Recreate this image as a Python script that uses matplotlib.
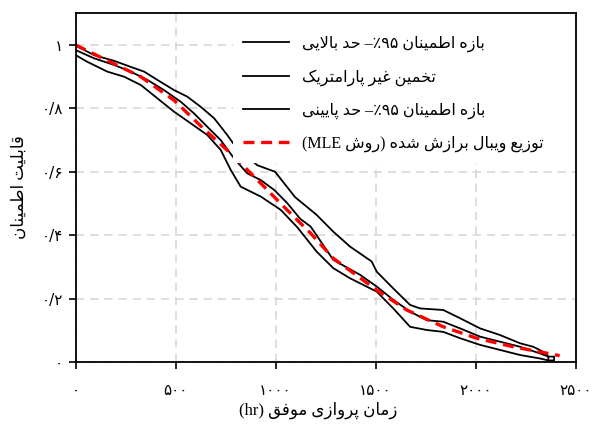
import re
import matplotlib
matplotlib.use("Agg")
import matplotlib.pyplot as plt
from matplotlib.patches import Rectangle
from matplotlib.lines import Line2D

# ---------------- data ----------------
t_upper = [0, 92, 192, 275, 342, 408, 491, 558, 625, 692, 758, 787, 907, 997, 1097,
           1205, 1288, 1372, 1480, 1505, 1588, 1672, 1722, 1838, 1922, 2022, 2122,
           2222, 2288, 2338, 2363, 2392, 2392]
s_upper = [0.998, 0.968, 0.950, 0.931, 0.916, 0.890, 0.858, 0.837, 0.805, 0.769, 0.716,
           0.690, 0.621, 0.600, 0.520, 0.464, 0.411, 0.364, 0.317, 0.285, 0.232, 0.180,
           0.169, 0.164, 0.138, 0.106, 0.085, 0.059, 0.048, 0.032, 0.017, 0.017, 0.005]

t_km = [0, 92, 192, 275, 358, 441, 525, 592, 658, 725, 792, 858, 925, 992, 1058,
        1122, 1175, 1288, 1422, 1505, 1588, 1672, 1755, 1838, 1922, 2022, 2122, 2222,
        2322, 2363, 2363]
s_km = [0.984, 0.958, 0.937, 0.916, 0.890, 0.858, 0.821, 0.784, 0.742, 0.700, 0.642,
        0.595, 0.574, 0.543, 0.501, 0.452, 0.427, 0.322, 0.275, 0.238, 0.196, 0.159,
        0.132, 0.127, 0.106, 0.080, 0.064, 0.048, 0.027, 0.017, 0.005]

t_lower = [0, 58, 158, 242, 325, 408, 491, 575, 658, 725, 775, 825, 925, 1025, 1108,
           1205, 1288, 1372, 1505, 1588, 1672, 1755, 1838, 1922, 2022, 2122, 2222,
           2322, 2363, 2392]
s_lower = [0.968, 0.947, 0.916, 0.900, 0.874, 0.832, 0.790, 0.753, 0.716, 0.669, 0.606,
           0.553, 0.522, 0.480, 0.425, 0.348, 0.296, 0.264, 0.222, 0.169, 0.111, 0.101,
           0.095, 0.075, 0.054, 0.038, 0.022, 0.011, 0.005, 0.005]

t_weibull = [0, 158, 325, 491, 633, 792, 925, 1058, 1175, 1288, 1505, 1655, 1838,
             2005, 2188, 2420]
s_weibull = [1.0, 0.951, 0.900, 0.826, 0.740, 0.648, 0.564, 0.479, 0.406, 0.327, 0.227,
             0.164, 0.111, 0.075, 0.048, 0.020]

x_ticks = [0, 500, 1000, 1500, 2000, 2500]
x_ticklabels = ["۰", "۵۰۰", "۱۰۰۰", "۱۵۰۰", "۲۰۰۰", "۲۵۰۰"]
y_ticks = [0, 0.2, 0.4, 0.6, 0.8, 1.0]
y_ticklabels = ["۰", "۰/۲", "۰/۴", "۰/۶", "۰/۸", "۱"]

label_upper = "بازه اطمینان ۹۵٪– حد بالایی"
label_km = "تخمین غیر پارامتریک"
label_lower = "بازه اطمینان ۹۵٪– حد پایینی"
label_weibull = "توزیع ویبال برازش شده (روش MLE)"
x_label = "زمان پروازی موفق (hr)"
y_label = "قابلیت اطمینان"

# ---------------- simple Arabic-script shaping for display ----------------
FORMS = {
    '\u0627': ('\uFE8D', '\uFE8E', None, None),
    '\u0628': ('\uFE8F', '\uFE90', '\uFE91', '\uFE92'),
    '\u067E': ('\uFB56', '\uFB57', '\uFB58', '\uFB59'),
    '\u062A': ('\uFE95', '\uFE96', '\uFE97', '\uFE98'),
    '\u062D': ('\uFEA1', '\uFEA2', '\uFEA3', '\uFEA4'),
    '\u062E': ('\uFEA5', '\uFEA6', '\uFEA7', '\uFEA8'),
    '\u062F': ('\uFEA9', '\uFEAA', None, None),
    '\u0631': ('\uFEAD', '\uFEAE', None, None),
    '\u0632': ('\uFEAF', '\uFEB0', None, None),
    '\u0633': ('\uFEB1', '\uFEB2', '\uFEB3', '\uFEB4'),
    '\u0634': ('\uFEB5', '\uFEB6', '\uFEB7', '\uFEB8'),
    '\u0637': ('\uFEC1', '\uFEC2', '\uFEC3', '\uFEC4'),
    '\u0639': ('\uFEC9', '\uFECA', '\uFECB', '\uFECC'),
    '\u063A': ('\uFECD', '\uFECE', '\uFECF', '\uFED0'),
    '\u0641': ('\uFED1', '\uFED2', '\uFED3', '\uFED4'),
    '\u0642': ('\uFED5', '\uFED6', '\uFED7', '\uFED8'),
    '\u0644': ('\uFEDD', '\uFEDE', '\uFEDF', '\uFEE0'),
    '\u0645': ('\uFEE1', '\uFEE2', '\uFEE3', '\uFEE4'),
    '\u0646': ('\uFEE5', '\uFEE6', '\uFEE7', '\uFEE8'),
    '\u0647': ('\uFEE9', '\uFEEA', '\uFEEB', '\uFEEC'),
    '\u0648': ('\uFEED', '\uFEEE', None, None),
    '\u06CC': ('\uFBFC', '\uFBFD', '\uFBFE', '\uFBFF'),
    '\u064A': ('\uFEF1', '\uFEF2', '\uFEF3', '\uFEF4'),
    '\u06A9': ('\uFB8E', '\uFB8F', '\uFB90', '\uFB91'),
}


def _dual(c):
    return c in FORMS and FORMS[c][2] is not None


def shape(s):
    out = []
    i, n = 0, len(s)
    while i < n:
        c = s[i]
        if c not in FORMS:
            out.append(c)
            i += 1
            continue
        jp = i > 0 and _dual(s[i - 1])
        if c == '\u0644' and i + 1 < n and s[i + 1] == '\u0627':
            out.append('\uFEFC' if jp else '\uFEFB')
            i += 2
            continue
        jn = _dual(c) and i + 1 < n and s[i + 1] in FORMS
        f = FORMS[c]
        if jp and jn:
            g = f[3]
        elif jp:
            g = f[1]
        elif jn:
            g = f[2]
        else:
            g = f[0]
        out.append(g)
        i += 1
    return ''.join(out)


def visual(s):
    r = shape(s)[::-1]
    r = re.sub(r'[A-Za-z0-9\u06F0-\u06F9]+', lambda m: m.group(0)[::-1], r)
    return r.translate(str.maketrans('()', ')('))


FAM = ['Liberation Serif', 'DejaVu Sans']
NUMFAM = ['DejaVu Sans']

# ---------------- figure ----------------
W, H = 592, 428
fig = plt.figure(figsize=(W / 100, H / 100), dpi=100)
x0, x1, ytop, ybot = 75.7, 575.7, 13.3, 362.0
ax = fig.add_axes([x0 / W, 1 - ybot / H, (x1 - x0) / W, (ybot - ytop) / H])

ax.set_xlim(0, 2500)
ax.set_ylim(0, 1.1)

ax.grid(True, color='#d8d8d8', linestyle=(0, (5, 3.5)), linewidth=1.2, zorder=0)
ax.set_axisbelow(True)

lw_k = 1.3
ax.plot(t_upper, s_upper, color='black', lw=lw_k, zorder=2)
ax.plot(t_km, s_km, color='black', lw=lw_k, zorder=2)
ax.plot(t_lower, s_lower, color='black', lw=lw_k, zorder=2)
ax.plot(t_weibull, s_weibull, color='#ff0000', lw=2.4, linestyle=(0, (3.3, 2.0)), zorder=2.1)

# white legend background area
ax.add_patch(Rectangle(((233 - x0) / 500, (ybot - 163) / (ybot - ytop)),
                       1 - (233 - x0) / 500, 1 - (ybot - 163) / (ybot - ytop),
                       transform=ax.transAxes, facecolor='white', edgecolor='none',
                       zorder=2.2))

for s in ax.spines.values():
    s.set_linewidth(1.3)
    s.set_color('black')
    s.set_zorder(3)

ax.set_xticks(x_ticks)
ax.set_xticklabels(x_ticklabels, family=NUMFAM, fontsize=11)
ax.set_yticks(y_ticks)
ax.set_yticklabels(y_ticklabels, family=NUMFAM, fontsize=11)
ax.tick_params(axis='x', direction='out', length=5, width=1.2, pad=10)
ax.tick_params(axis='y', direction='out', length=5, width=1.2, pad=4)

fig.text((x0 + x1) / 2 / W - 8 / W, 1 - 410 / H, visual(x_label), family=FAM, fontsize=12,
         ha='center', va='center')
fig.text(20 / W, 1 - 187 / H, visual(y_label), family=FAM, fontsize=12,
         ha='center', va='center', rotation=90)

handles = [
    Line2D([], [], color='black', lw=lw_k),
    Line2D([], [], color='black', lw=lw_k),
    Line2D([], [], color='black', lw=lw_k),
    Line2D([], [], color='#ff0000', lw=2.4, linestyle=(0, (3.3, 2.0))),
]
labels = [visual(label_upper), visual(label_km), visual(label_lower), visual(label_weibull)]
leg = ax.legend(handles, labels, loc='upper left',
                bbox_to_anchor=(243 / W, 1 - 36 / H), bbox_transform=fig.transFigure,
                frameon=False, borderpad=0, borderaxespad=0,
                handlelength=2.85, handletextpad=0.85, labelspacing=1.05,
                prop={'family': FAM, 'size': 11.5})
leg.set_zorder(5)

fig.savefig('out.png', dpi=100)
